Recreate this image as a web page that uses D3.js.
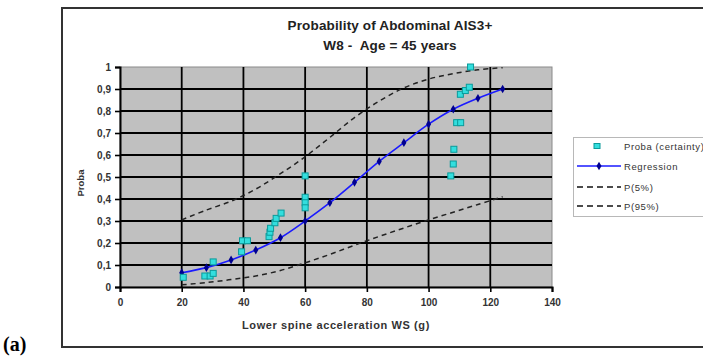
<!DOCTYPE html>
<html>
<head>
<meta charset="utf-8">
<script src="https://cdn.jsdelivr.net/npm/d3@7"></script>
<style>
  html, body { margin: 0; padding: 0; background: #fff; }
  svg { display: block; font-family: "Liberation Sans", Arial, sans-serif; }
  text { white-space: pre; }
</style>
</head>
<body>
<svg id="chart" width="703" height="358"></svg>
<script>
// Observed probabilities (certainty points)
const probaX = [20.5, 27.5, 29.2, 30.2, 30.2, 39.4, 39.7, 41.3, 48.3, 48.6, 48.8, 50.2, 50.6, 52.2,
                60, 60, 60, 60, 107.2, 108, 108.2, 109.1, 110.4, 110.3, 111.9, 113.2, 113.6];
const probaY = [0.044, 0.05, 0.05, 0.062, 0.114, 0.16, 0.21, 0.21, 0.229, 0.249, 0.267, 0.292, 0.312, 0.336,
                0.505, 0.408, 0.383, 0.36, 0.505, 0.559, 0.626, 0.747, 0.747, 0.876, 0.893, 0.908, 1.0];

// Regression curve and its 5% / 95% bounds
const regX  = [20, 28, 36, 44, 52, 60, 68, 76, 84, 92, 100, 108, 116, 124];
const regY  = [0.065, 0.088, 0.123, 0.168, 0.224, 0.30, 0.383, 0.476, 0.571, 0.656, 0.74, 0.808, 0.858, 0.90];
const p5Y   = [0.305, 0.35, 0.39, 0.445, 0.515, 0.592, 0.68, 0.77, 0.845, 0.905, 0.945, 0.97, 0.987, 0.997];
const p95Y  = [0.01, 0.02, 0.034, 0.05, 0.075, 0.11, 0.148, 0.19, 0.23, 0.268, 0.305, 0.34, 0.375, 0.41];

const xTicks = [0, 20, 40, 60, 80, 100, 120, 140];
const yTicks = [0, 0.1, 0.2, 0.3, 0.4, 0.5, 0.6, 0.7, 0.8, 0.9, 1];
const titleLines = ["Probability of Abdominal AIS3+", "W8 -  Age = 45 years"];
const legendLabels = ["Proba (certainty)", "Regression", "P(5%)", "P(95%)"];

const svg = d3.select("#chart");

// Outer chart frame (runs past the right edge)
svg.append("rect").attr("x", 62).attr("y", 8).attr("width", 700).attr("height", 339)
  .attr("fill", "#fff").attr("stroke", "#333").attr("stroke-width", 2);

const x = d3.scaleLinear().domain([0, 140]).range([120, 552]);
const y = d3.scaleLinear().domain([0, 1]).range([287, 67]);

// Plot area
svg.append("rect").attr("x", x(0)).attr("y", y(1))
  .attr("width", x(140) - x(0)).attr("height", y(0) - y(1))
  .attr("fill", "#c0c0c0").attr("stroke", "#8a8a8a").attr("stroke-width", 1);

// Grid
const grid = svg.append("g");
grid.selectAll("line.h").data(yTicks.filter(v => v > 0 && v < 1)).join("line")
  .attr("x1", x(0)).attr("x2", x(140)).attr("y1", d => y(d)).attr("y2", d => y(d))
  .attr("stroke", "#000").attr("stroke-width", 1.8);
grid.selectAll("line.v").data(xTicks.filter(v => v > 0 && v < 140)).join("line")
  .attr("y1", y(0)).attr("y2", y(1)).attr("x1", d => x(d)).attr("x2", d => x(d))
  .attr("stroke", "#000").attr("stroke-width", 1.8);

// Axes
const fmt = d => d === 0 || d === 1 ? String(d) : d3.format(".1f")(d).replace(".", ",");
const yAxis = svg.append("g").attr("transform", `translate(${x(0)},0)`)
  .call(d3.axisLeft(y).tickValues(yTicks).tickFormat(fmt).tickSize(5).tickPadding(4));
const xAxis = svg.append("g").attr("transform", `translate(0,${y(0)})`)
  .call(d3.axisBottom(x).tickValues(xTicks).tickSize(5).tickPadding(7));
[yAxis, xAxis].forEach(a => {
  a.select(".domain").attr("stroke", "#000").attr("stroke-width", 2);
  a.selectAll(".tick line").attr("stroke", "#000").attr("stroke-width", 1.6);
  a.selectAll(".tick text").attr("fill", "#333").attr("font-size", 10)
    .attr("font-family", "Liberation Sans, Arial, sans-serif").attr("font-weight", "bold");
});

// Bound curves
const line = d3.line().x(d => x(d[0])).y(d => y(d[1])).curve(d3.curveCatmullRom);
[p5Y, p95Y].forEach(vals => {
  svg.append("path").datum(regX.map((v, i) => [v, vals[i]])).attr("d", line)
    .attr("fill", "none").attr("stroke", "#222").attr("stroke-width", 1.5)
    .attr("stroke-dasharray", "5,4");
});

// Regression
svg.append("path").datum(regX.map((v, i) => [v, regY[i]])).attr("d", line)
  .attr("fill", "none").attr("stroke", "#1a1aff").attr("stroke-width", 1.6);
const diamond = d3.symbol().type(d3.symbolDiamond).size(22);
svg.append("g").selectAll("path").data(regX).join("path")
  .attr("d", diamond)
  .attr("transform", (d, i) => `translate(${x(d)},${y(regY[i])})`)
  .attr("fill", "#000090");

// Observed points
svg.append("g").selectAll("rect").data(probaX).join("rect")
  .attr("x", d => x(d) - 3).attr("y", (d, i) => y(probaY[i]) - 3)
  .attr("width", 6).attr("height", 6)
  .attr("fill", "#33dede").attr("stroke", "#0a9a9a").attr("stroke-width", 1);

// Titles
svg.append("g").selectAll("text").data(titleLines).join("text")
  .attr("x", 390).attr("y", (d, i) => 30 + i * 20)
  .attr("text-anchor", "middle").attr("font-size", 13.5).attr("font-weight", "bold")
  .attr("letter-spacing", 0.15).attr("fill", "#222").text(d => d);

svg.append("text").attr("x", (x(0) + x(140)) / 2).attr("y", 329)
  .attr("text-anchor", "middle").attr("font-size", 11).attr("font-weight", "bold")
  .attr("letter-spacing", 0.6).attr("fill", "#333")
  .text("Lower spine acceleration WS (g)");

svg.append("text").attr("transform", "translate(84,183) rotate(-90)")
  .attr("text-anchor", "middle").attr("font-size", 9.5).attr("font-weight", "bold")
  .attr("fill", "#333").text("Proba");

// Legend
const lg = svg.append("g");
lg.append("rect").attr("x", 573.5).attr("y", 137.5).attr("width", 140).attr("height", 79)
  .attr("fill", "#fff").attr("stroke", "#b8b8b8");
const rowsY = [146, 166, 187, 206];
lg.append("rect").attr("x", 594).attr("y", rowsY[0] - 2.5).attr("width", 6).attr("height", 5)
  .attr("fill", "#33dede").attr("stroke", "#0a9a9a");
lg.append("line").attr("x1", 577).attr("x2", 621).attr("y1", rowsY[1]).attr("y2", rowsY[1])
  .attr("stroke", "#1a1aff").attr("stroke-width", 1.6);
lg.append("path").attr("d", diamond).attr("transform", `translate(599,${rowsY[1]})`).attr("fill", "#000090");
[2, 3].forEach(k => {
  lg.append("line").attr("x1", 577).attr("x2", 621).attr("y1", rowsY[k]).attr("y2", rowsY[k])
    .attr("stroke", "#111").attr("stroke-width", 1.5).attr("stroke-dasharray", "6,4");
});
lg.selectAll("text").data(legendLabels).join("text")
  .attr("x", 624).attr("y", (d, i) => rowsY[i] + 3.5)
  .attr("font-size", 9.5).attr("letter-spacing", 0.6).attr("fill", "#333").text(d => d);

// Panel label
svg.append("text").attr("x", 3).attr("y", 351)
  .attr("font-family", "Liberation Serif, 'Times New Roman', serif")
  .attr("font-size", 20).attr("font-weight", "bold").attr("fill", "#000").text("(a)");
</script>
</body>
</html>
